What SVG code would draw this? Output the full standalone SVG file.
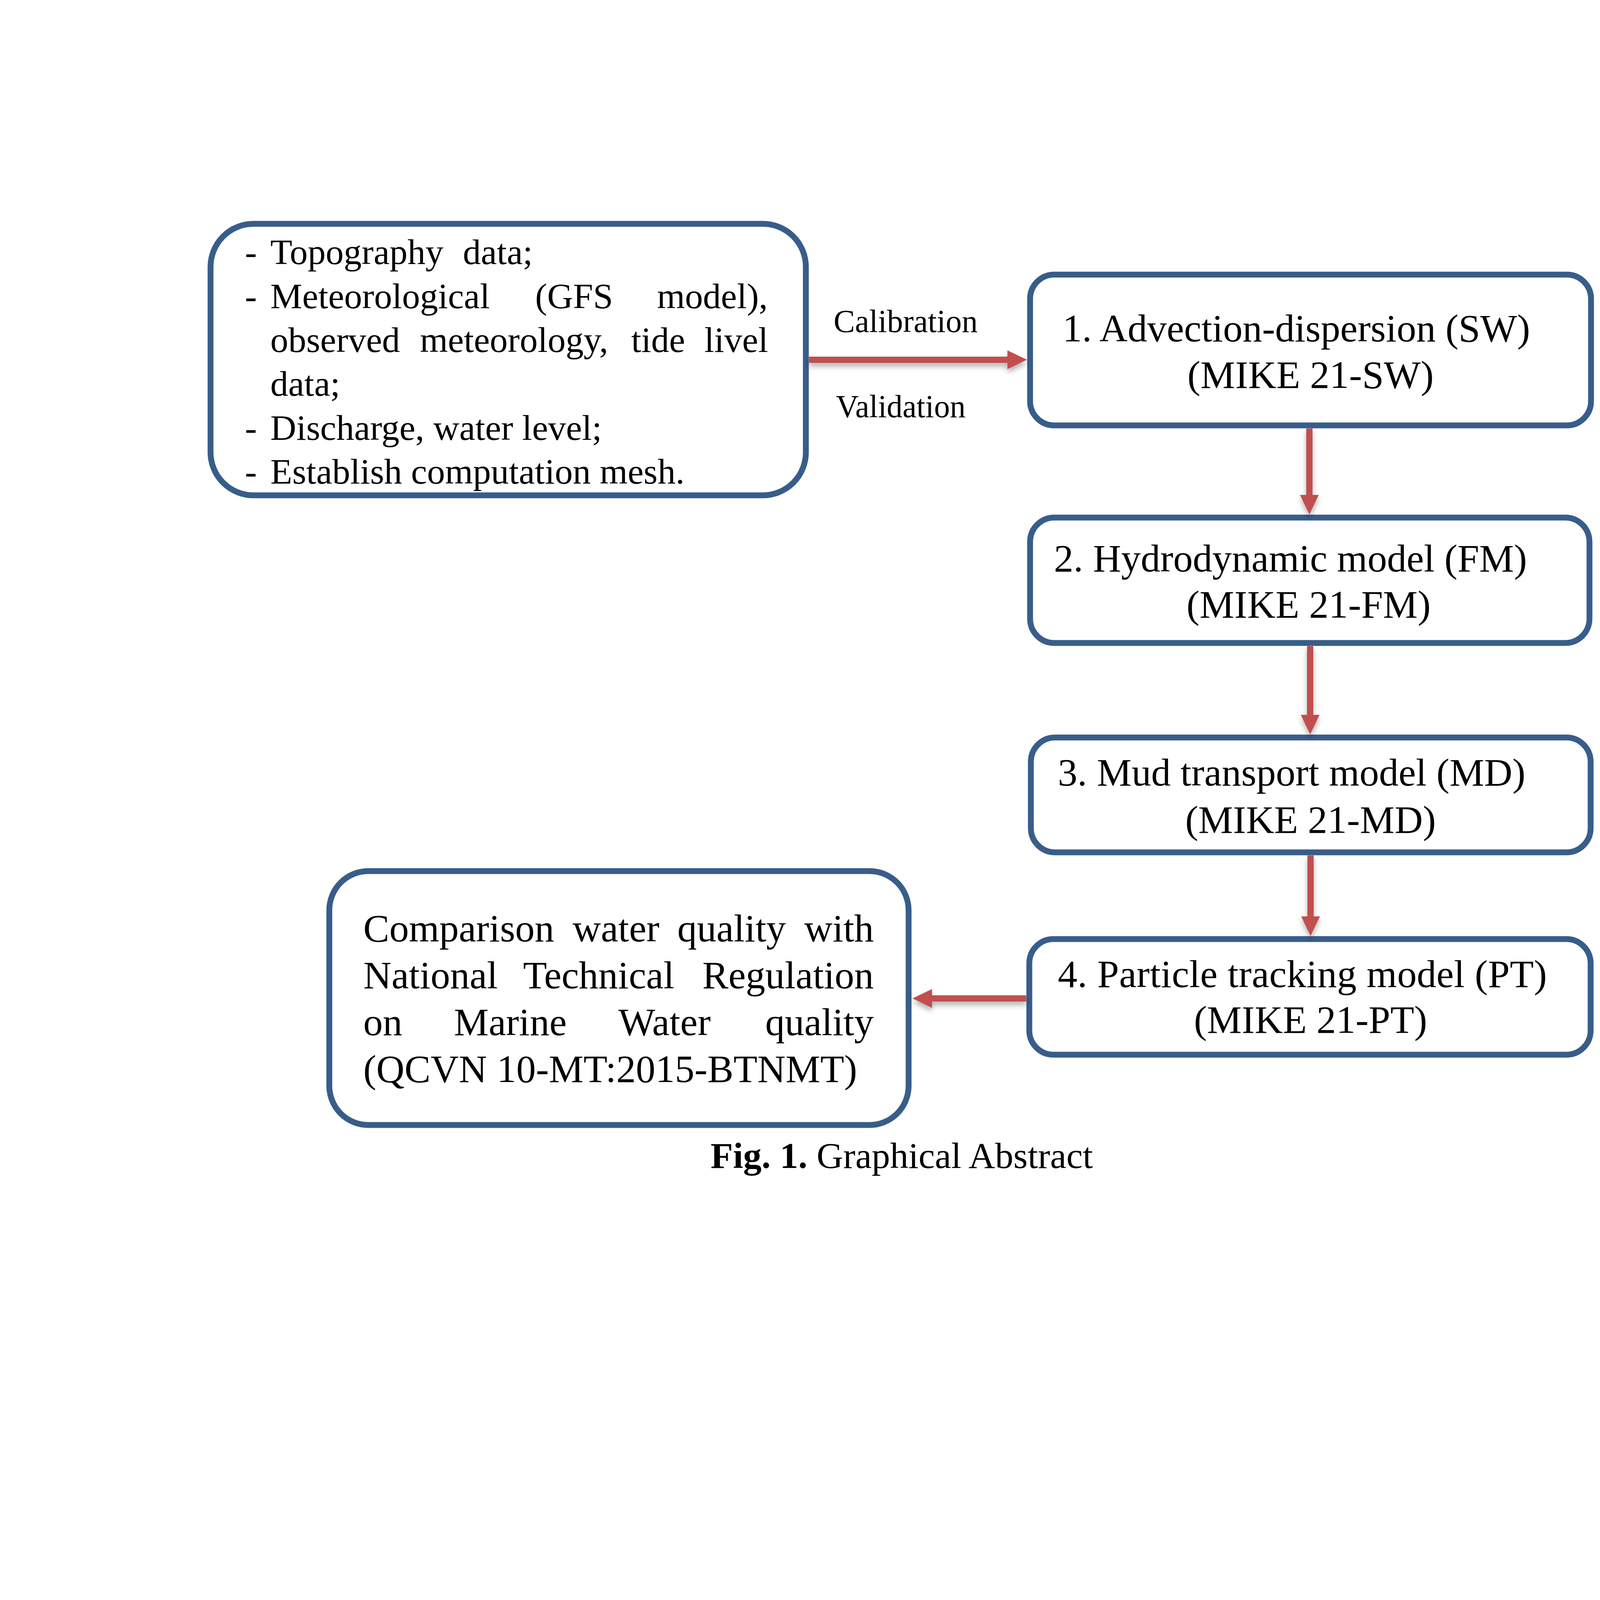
<svg xmlns="http://www.w3.org/2000/svg" width="5100" height="6600" viewBox="0 0 5100 6600">
<style>
.box{fill:#ffffff;stroke:#385D8A;stroke-width:15}
.t{font-family:"Liberation Serif","Times New Roman",serif;fill:#000000}
.f100{font-size:100px}
.f93{font-size:92px}
.lbl{font-size:82px}
.arr{stroke:#C0504D;stroke-width:16;fill:none;marker-end:url(#ah)}
</style>
<defs>
<marker id="ah" markerUnits="userSpaceOnUse" markerWidth="50" markerHeight="48" refX="2" refY="24" orient="auto">
<path d="M0,0 L50,24 L0,48 z" fill="#C0504D"/>
</marker>
<filter id="sh" x="-20%" y="-50%" width="140%" height="200%">
<feDropShadow dx="0" dy="9" stdDeviation="7" flood-color="#000000" flood-opacity="0.3"/>
</filter>
</defs>
<rect width="5100" height="6600" fill="#ffffff"/>

<g id="diagram" transform="translate(-350 0)">
<g id="inputs">
<rect class="box" x="889" y="573" width="1524" height="695" rx="110"/>
<text class="t f93"><tspan x="977" y="676">-</tspan><tspan x="1042" y="676">Topography</tspan><tspan x="1535" y="676">data;</tspan></text>
<text class="t f93"><tspan x="977" y="789">-</tspan><tspan x="1042" y="789">Meteorological</tspan><tspan x="1720" y="789">(GFS</tspan><tspan x="2032" y="789">model),</tspan></text>
<text class="t f93"><tspan x="1042" y="901">observed</tspan><tspan x="1425" y="901">meteorology,</tspan><tspan x="1966" y="901">tide</tspan><tspan x="2153" y="901">livel</tspan></text>
<text class="t f93" x="1042" y="1013">data;</text>
<text class="t f93"><tspan x="977" y="1126">-</tspan><tspan x="1042" y="1126">Discharge, water level;</tspan></text>
<text class="t f93"><tspan x="977" y="1238">-</tspan><tspan x="1042" y="1238">Establish computation mesh.</tspan></text>
</g>

<g id="labels">
<text class="t lbl" x="2484" y="850">Calibration</text>
<text class="t lbl" x="2490" y="1068" textLength="332" lengthAdjust="spacingAndGlyphs">Validation</text>
</g>

<g id="sw">
<rect class="box" x="2987" y="703" width="1436" height="386" rx="62"/>
<text class="t f100" x="3070" y="874">1. Advection-dispersion (SW)</text>
<text class="t f100" x="3705" y="993" text-anchor="middle">(MIKE 21-SW)</text>
</g>

<g id="fm">
<rect class="box" x="2987" y="1325" width="1432" height="321" rx="62"/>
<text class="t f100" x="3048" y="1463">2. Hydrodynamic model (FM)</text>
<text class="t f100" x="3700" y="1581" text-anchor="middle">(MIKE 21-FM)</text>
</g>

<g id="md">
<rect class="box" x="2989" y="1888" width="1433" height="294" rx="62"/>
<text class="t f100" x="3058" y="2011">3. Mud transport model (MD)</text>
<text class="t f100" x="3705" y="2132" text-anchor="middle">(MIKE 21-MD)</text>
</g>

<g id="pt">
<rect class="box" x="2985" y="2404" width="1437" height="296" rx="62"/>
<text class="t f100" x="3058" y="2527" textLength="1252" lengthAdjust="spacing">4. Particle tracking model (PT)</text>
<text class="t f100" x="3705" y="2644" text-anchor="middle">(MIKE 21-PT)</text>
</g>

<g id="comparison">
<rect class="box" x="1193" y="2230" width="1483" height="650" rx="100"/>
<text class="t f100"><tspan x="1280" y="2410">Comparison</tspan><tspan x="1816" y="2410">water</tspan><tspan x="2084" y="2410">quality</tspan><tspan x="2409" y="2410">with</tspan></text>
<text class="t f100"><tspan x="1280" y="2530">National</tspan><tspan x="1689" y="2530">Technical</tspan><tspan x="2148" y="2530">Regulation</tspan></text>
<text class="t f100"><tspan x="1280" y="2650">on</tspan><tspan x="1512" y="2650">Marine</tspan><tspan x="1933" y="2650">Water</tspan><tspan x="2309" y="2650">quality</tspan></text>
<text class="t f100" x="1280" y="2770">(QCVN 10-MT:2015-BTNMT)</text>
</g>

<g id="connectors" filter="url(#sh)">
<line class="arr" x1="2421" y1="921" x2="2931" y2="921"/>
<line class="arr" x1="3702" y1="1097" x2="3702" y2="1269"/>
<line class="arr" x1="3704" y1="1654" x2="3704" y2="1832"/>
<line class="arr" x1="3705" y1="2190" x2="3705" y2="2348"/>
<line class="arr" x1="2977" y1="2556" x2="2734" y2="2556"/>
</g>

<g id="caption">
<text class="t" x="2169" y="2990" font-size="94"><tspan font-weight="bold">Fig. 1.</tspan> Graphical Abstract</text>
</g>
</g>
</svg>
